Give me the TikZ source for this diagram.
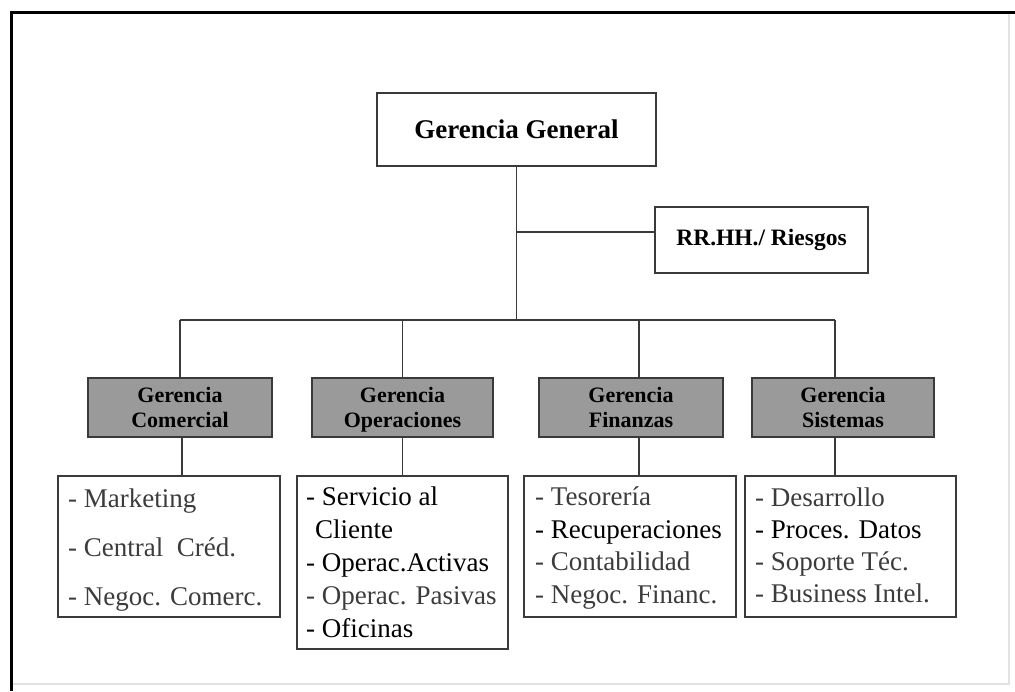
\documentclass[tikz,border=0pt]{standalone}
\usepackage{fontspec}
\setmainfont{Liberation Serif}
\definecolor{boxline}{HTML}{3A3A3A}
\definecolor{headfill}{HTML}{9A9A9A}
\definecolor{txtgray}{HTML}{3C3C3C}
\definecolor{faint}{HTML}{E2E2E2}
\begin{document}
\begin{tikzpicture}[x=1pt,y=-1pt,
  box/.style={draw=boxline,line width=1.6pt,rectangle,inner sep=0pt,fill=white},
  topbox/.style={box,font=\fontsize{27}{30}\selectfont\bfseries},
  headbox/.style={box,fill=headfill,align=center,font=\fontsize{22}{25}\selectfont\bfseries,minimum height=59pt,text depth=0pt},
  listbox/.style={box},
  item/.style={anchor=base west,inner sep=0pt,font=\fontsize{27}{30}\selectfont,text=txtgray},
  itemdark/.style={item,text=black},
  link/.style={draw=boxline,line width=1.5pt}]
\useasboundingbox (0,0) rectangle (1015,691);
% outer frame
\draw[faint,line width=1.5pt] (1009,14) -- (1009,684) -- (11,684);
\draw[black,line width=3pt] (1015,12) -- (11,12) -- (11,691);

% top nodes
\node[topbox,minimum width=279pt,minimum height=73pt] (gg) at (516.5,129.5) {Gerencia General};
\node[topbox,minimum width=213pt,minimum height=66pt,font=\fontsize{23.5}{26}\selectfont\bfseries] (rr) at (761.5,240) {RR.HH./ Riesgos};

% heading nodes
\node[headbox,minimum width=184pt] (hc) at (180,407.5) {Gerencia\\Comercial};
\node[headbox,minimum width=181pt] (ho) at (402.5,407.5) {Gerencia\\Operaciones};
\node[headbox,minimum width=184pt] (hf) at (631,407.5) {Gerencia\\Finanzas};
\node[headbox,minimum width=182pt] (hs) at (843,407.5) {Gerencia\\Sistemas};

% list boxes
\node[listbox,minimum width=222pt,minimum height=141pt] (lc) at (169,546.5) {};
\node[listbox,minimum width=211pt,minimum height=173pt] (lo) at (402.5,562.5) {};
\node[listbox,minimum width=212pt,minimum height=141pt] (lf) at (630,546.5) {};
\node[listbox,minimum width=211pt,minimum height=141pt] (ls) at (850.5,546.5) {};

% connectors
\coordinate (bus) at (516,320);
\coordinate (rrin) at ([yshift=8pt]rr.west);
\draw[link] (gg.south) -- (gg.south |- bus);
\draw[link] (gg.south |- rrin) -- (rrin);
\draw[link] (hc.north |- bus) -- ([xshift=-8pt]hs.north |- bus);
\draw[link] (hc.north) -- (hc.north |- bus);
\draw[link] (ho.north) -- (ho.north |- bus);
\draw[link] ([xshift=8pt]hf.north) -- ([xshift=8pt]hf.north |- bus);
\draw[link] ([xshift=-8pt]hs.north) -- ([xshift=-8pt]hs.north |- bus);
\draw[link] ([xshift=2pt]hc.south) -- ([xshift=2pt]hc.south |- lc.north);
\draw[link] (ho.south) -- (ho.south |- lo.north);
\draw[link] ([xshift=8pt]hf.south) -- ([xshift=8pt]hf.south |- lf.north);
\draw[link] ([xshift=-8pt]hs.south) -- ([xshift=-8pt]hs.south |- ls.north);

% Comercial items
\node[item] (c1) at (68,507) {- Marketing};
\node[item] (c2) at (68,556) {- Central\ \ Créd.};
\node[item] (c3) at (68,605) {- Negoc. Comerc.};
% Operaciones items
\node[itemdark] (o1) at (306,505) {- Servicio al};
\node[itemdark] (o2) at (315,538) {Cliente};
\node[itemdark] (o3) at (306,571) {- Operac.Activas};
\node[item] (o4) at (306,604) {- Operac. Pasivas};
\node[itemdark] (o5) at (306,637) {- Oficinas};
% Finanzas items
\node[item] (f1) at (535,505.5) {- Tesorería};
\node[itemdark] (f2) at (535,538) {- Recuperaciones};
\node[item] (f3) at (535,570.5) {- Contabilidad};
\node[item] (f4) at (535,603) {- Negoc. Financ.};
% Sistemas items
\node[item] (s1) at (755,506) {- Desarrollo};
\node[itemdark] (s2) at (755,538.5) {- Proces. Datos};
\node[item] (s3) at (755,570.5) {- Soporte Téc.};
\node[item] (s4) at (755,602.5) {- Business Intel.};
\end{tikzpicture}
\end{document}
